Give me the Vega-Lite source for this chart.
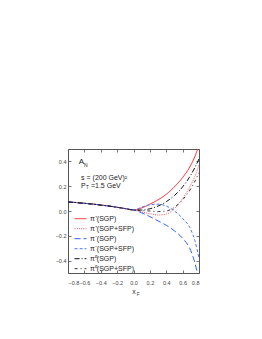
{
  "$schema": "https://vega.github.io/schema/vega-lite/v6.json",
  "autosize": "none",
  "width": 131,
  "height": 124,
  "padding": {"left": 68, "top": 149, "right": 63, "bottom": 66},
  "background": "white",
  "config": {
    "view": {"stroke": "#555", "strokeWidth": 1},
    "font": "Liberation Sans",
    "axis": {"grid": false, "domain": false, "tickColor": "#555", "labelColor": "#444", "labelFontSize": 5.5, "labelFont": "Liberation Sans", "labelOverlap": false, "tickSize": -3, "tickWidth": 0.8}
  },
  "datasets": {
    "curves": [
      {"s": "π⁺(SGP)", "x": -0.8, "y": 0.073}, {"s": "π⁺(SGP)", "x": -0.7, "y": 0.068}, {"s": "π⁺(SGP)", "x": -0.6, "y": 0.062}, {"s": "π⁺(SGP)", "x": -0.5, "y": 0.056}, {"s": "π⁺(SGP)", "x": -0.4, "y": 0.048}, {"s": "π⁺(SGP)", "x": -0.3, "y": 0.04}, {"s": "π⁺(SGP)", "x": -0.2, "y": 0.03}, {"s": "π⁺(SGP)", "x": -0.1, "y": 0.019}, {"s": "π⁺(SGP)", "x": 0.0, "y": 0.008},
      {"s": "π⁺(SGP)", "x": 0.1, "y": 0.025}, {"s": "π⁺(SGP)", "x": 0.2, "y": 0.055}, {"s": "π⁺(SGP)", "x": 0.3, "y": 0.09}, {"s": "π⁺(SGP)", "x": 0.4, "y": 0.135}, {"s": "π⁺(SGP)", "x": 0.5, "y": 0.195}, {"s": "π⁺(SGP)", "x": 0.6, "y": 0.27}, {"s": "π⁺(SGP)", "x": 0.7, "y": 0.37}, {"s": "π⁺(SGP)", "x": 0.75, "y": 0.44}, {"s": "π⁺(SGP)", "x": 0.8, "y": 0.53},

      {"s": "π⁺(SGP+SFP)", "x": -0.8, "y": 0.073}, {"s": "π⁺(SGP+SFP)", "x": -0.7, "y": 0.068}, {"s": "π⁺(SGP+SFP)", "x": -0.6, "y": 0.062}, {"s": "π⁺(SGP+SFP)", "x": -0.5, "y": 0.056}, {"s": "π⁺(SGP+SFP)", "x": -0.4, "y": 0.048}, {"s": "π⁺(SGP+SFP)", "x": -0.3, "y": 0.04}, {"s": "π⁺(SGP+SFP)", "x": -0.2, "y": 0.03}, {"s": "π⁺(SGP+SFP)", "x": -0.1, "y": 0.019}, {"s": "π⁺(SGP+SFP)", "x": 0.0, "y": 0.008},
      {"s": "π⁺(SGP+SFP)", "x": 0.1, "y": -0.008}, {"s": "π⁺(SGP+SFP)", "x": 0.2, "y": -0.022}, {"s": "π⁺(SGP+SFP)", "x": 0.3, "y": -0.032}, {"s": "π⁺(SGP+SFP)", "x": 0.4, "y": -0.025}, {"s": "π⁺(SGP+SFP)", "x": 0.5, "y": 0.02}, {"s": "π⁺(SGP+SFP)", "x": 0.6, "y": 0.1}, {"s": "π⁺(SGP+SFP)", "x": 0.7, "y": 0.21}, {"s": "π⁺(SGP+SFP)", "x": 0.75, "y": 0.28}, {"s": "π⁺(SGP+SFP)", "x": 0.8, "y": 0.37},

      {"s": "π⁻(SGP)", "x": -0.8, "y": 0.073}, {"s": "π⁻(SGP)", "x": -0.7, "y": 0.068}, {"s": "π⁻(SGP)", "x": -0.6, "y": 0.062}, {"s": "π⁻(SGP)", "x": -0.5, "y": 0.056}, {"s": "π⁻(SGP)", "x": -0.4, "y": 0.048}, {"s": "π⁻(SGP)", "x": -0.3, "y": 0.04}, {"s": "π⁻(SGP)", "x": -0.2, "y": 0.03}, {"s": "π⁻(SGP)", "x": -0.1, "y": 0.019}, {"s": "π⁻(SGP)", "x": 0.0, "y": 0.008},
      {"s": "π⁻(SGP)", "x": 0.1, "y": -0.015}, {"s": "π⁻(SGP)", "x": 0.2, "y": -0.045}, {"s": "π⁻(SGP)", "x": 0.3, "y": -0.08}, {"s": "π⁻(SGP)", "x": 0.4, "y": -0.115}, {"s": "π⁻(SGP)", "x": 0.5, "y": -0.16}, {"s": "π⁻(SGP)", "x": 0.6, "y": -0.22}, {"s": "π⁻(SGP)", "x": 0.7, "y": -0.32}, {"s": "π⁻(SGP)", "x": 0.75, "y": -0.42}, {"s": "π⁻(SGP)", "x": 0.8, "y": -0.56},

      {"s": "π⁻(SGP+SFP)", "x": -0.8, "y": 0.073}, {"s": "π⁻(SGP+SFP)", "x": -0.7, "y": 0.068}, {"s": "π⁻(SGP+SFP)", "x": -0.6, "y": 0.062}, {"s": "π⁻(SGP+SFP)", "x": -0.5, "y": 0.056}, {"s": "π⁻(SGP+SFP)", "x": -0.4, "y": 0.048}, {"s": "π⁻(SGP+SFP)", "x": -0.3, "y": 0.04}, {"s": "π⁻(SGP+SFP)", "x": -0.2, "y": 0.03}, {"s": "π⁻(SGP+SFP)", "x": -0.1, "y": 0.019}, {"s": "π⁻(SGP+SFP)", "x": 0.0, "y": 0.008},
      {"s": "π⁻(SGP+SFP)", "x": 0.1, "y": 0.03}, {"s": "π⁻(SGP+SFP)", "x": 0.2, "y": 0.05}, {"s": "π⁻(SGP+SFP)", "x": 0.3, "y": 0.055}, {"s": "π⁻(SGP+SFP)", "x": 0.4, "y": 0.04}, {"s": "π⁻(SGP+SFP)", "x": 0.5, "y": 0.0}, {"s": "π⁻(SGP+SFP)", "x": 0.6, "y": -0.06}, {"s": "π⁻(SGP+SFP)", "x": 0.7, "y": -0.15}, {"s": "π⁻(SGP+SFP)", "x": 0.75, "y": -0.24}, {"s": "π⁻(SGP+SFP)", "x": 0.8, "y": -0.38},

      {"s": "π⁰(SGP)", "x": -0.8, "y": 0.073}, {"s": "π⁰(SGP)", "x": -0.7, "y": 0.068}, {"s": "π⁰(SGP)", "x": -0.6, "y": 0.062}, {"s": "π⁰(SGP)", "x": -0.5, "y": 0.056}, {"s": "π⁰(SGP)", "x": -0.4, "y": 0.048}, {"s": "π⁰(SGP)", "x": -0.3, "y": 0.04}, {"s": "π⁰(SGP)", "x": -0.2, "y": 0.03}, {"s": "π⁰(SGP)", "x": -0.1, "y": 0.019}, {"s": "π⁰(SGP)", "x": 0.0, "y": 0.008},
      {"s": "π⁰(SGP)", "x": 0.1, "y": 0.008}, {"s": "π⁰(SGP)", "x": 0.2, "y": 0.018}, {"s": "π⁰(SGP)", "x": 0.3, "y": 0.04}, {"s": "π⁰(SGP)", "x": 0.4, "y": 0.075}, {"s": "π⁰(SGP)", "x": 0.5, "y": 0.125}, {"s": "π⁰(SGP)", "x": 0.6, "y": 0.195}, {"s": "π⁰(SGP)", "x": 0.7, "y": 0.29}, {"s": "π⁰(SGP)", "x": 0.75, "y": 0.35}, {"s": "π⁰(SGP)", "x": 0.8, "y": 0.42},

      {"s": "π⁰(SGP+SFP)", "x": -0.8, "y": 0.073}, {"s": "π⁰(SGP+SFP)", "x": -0.7, "y": 0.068}, {"s": "π⁰(SGP+SFP)", "x": -0.6, "y": 0.062}, {"s": "π⁰(SGP+SFP)", "x": -0.5, "y": 0.056}, {"s": "π⁰(SGP+SFP)", "x": -0.4, "y": 0.048}, {"s": "π⁰(SGP+SFP)", "x": -0.3, "y": 0.04}, {"s": "π⁰(SGP+SFP)", "x": -0.2, "y": 0.03}, {"s": "π⁰(SGP+SFP)", "x": -0.1, "y": 0.019}, {"s": "π⁰(SGP+SFP)", "x": 0.0, "y": 0.008},
      {"s": "π⁰(SGP+SFP)", "x": 0.1, "y": 0.003}, {"s": "π⁰(SGP+SFP)", "x": 0.2, "y": 0.0}, {"s": "π⁰(SGP+SFP)", "x": 0.3, "y": -0.005}, {"s": "π⁰(SGP+SFP)", "x": 0.4, "y": 0.0}, {"s": "π⁰(SGP+SFP)", "x": 0.5, "y": 0.03}, {"s": "π⁰(SGP+SFP)", "x": 0.6, "y": 0.09}, {"s": "π⁰(SGP+SFP)", "x": 0.7, "y": 0.18}, {"s": "π⁰(SGP+SFP)", "x": 0.75, "y": 0.24}, {"s": "π⁰(SGP+SFP)", "x": 0.8, "y": 0.31}
    ],
    "one": [{}]
  },
  "layer": [
    {
      "data": {"name": "curves"},
      "mark": {"type": "line", "clip": true, "strokeWidth": 1, "interpolate": "monotone"},
      "encoding": {
        "x": {"field": "x", "type": "quantitative", "scale": {"domain": [-0.8, 0.8], "nice": false},
          "axis": {"orient": "bottom", "values": [-0.8, -0.6, -0.4, -0.2, 0, 0.2, 0.4, 0.6, 0.8], "format": ".1f", "title": "x", "titleFontSize": 7, "titleFontWeight": "normal", "titleColor": "#333", "titlePadding": 2, "labelPadding": 10}},
        "y": {"field": "y", "type": "quantitative", "scale": {"domain": [-0.5, 0.5], "nice": false},
          "axis": {"orient": "left", "values": [-0.4, -0.2, 0, 0.2, 0.4], "format": ".1f", "title": null, "labelPadding": 5}},
        "color": {"field": "s", "type": "nominal",
          "scale": {"domain": ["π⁺(SGP)", "π⁺(SGP+SFP)", "π⁻(SGP)", "π⁻(SGP+SFP)", "π⁰(SGP)", "π⁰(SGP+SFP)"],
                    "range": ["#ff2020", "#ff5050", "#3060ff", "#4a78ff", "#111111", "#333333"]},
          "legend": {"orient": "none", "legendX": 6, "legendY": 65, "title": null, "symbolType": "stroke", "symbolStrokeWidth": 1, "symbolSize": 140, "labelFontSize": 7, "labelColor": "#222", "rowPadding": 0, "clipHeight": 9.4, "labelOffset": 3}},
        "strokeDash": {"field": "s", "type": "nominal",
          "scale": {"domain": ["π⁺(SGP)", "π⁺(SGP+SFP)", "π⁻(SGP)", "π⁻(SGP+SFP)", "π⁰(SGP)", "π⁰(SGP+SFP)"],
                    "range": [[1, 0], [1, 1.2], [6, 3], [3, 2], [5, 2, 1, 2], [3, 3, 1, 3]]},
          "legend": {"orient": "none", "legendX": 6, "legendY": 65, "title": null, "symbolType": "stroke", "symbolStrokeWidth": 1, "symbolSize": 140, "labelFontSize": 7, "rowPadding": 0, "clipHeight": 9.4, "labelOffset": 3}}
      }
    },
    {
      "data": {"name": "curves"},
      "mark": {"type": "point", "opacity": 0},
      "encoding": {
        "x": {"field": "x", "type": "quantitative", "axis": {"orient": "top", "values": [-0.8, -0.6, -0.4, -0.2, 0, 0.2, 0.4, 0.6, 0.8], "labels": false, "title": null}},
        "y": {"field": "y", "type": "quantitative", "axis": {"orient": "right", "values": [-0.4, -0.2, 0, 0.2, 0.4], "labels": false, "title": null}}
      }
    },
    {
      "data": {"name": "one"},
      "mark": {"type": "text", "text": "A", "fontSize": 8, "align": "left", "baseline": "middle", "color": "#222"},
      "encoding": {"x": {"datum": -0.67, "axis": null}, "y": {"datum": 0.395, "axis": null}}
    },
    {
      "data": {"name": "one"},
      "mark": {"type": "text", "text": "N", "fontSize": 5, "align": "left", "baseline": "middle", "color": "#222"},
      "encoding": {"x": {"datum": -0.605, "axis": null}, "y": {"datum": 0.37, "axis": null}}
    },
    {
      "data": {"name": "one"},
      "mark": {"type": "text", "text": "s = (200 GeV)²", "fontSize": 7, "align": "left", "baseline": "middle", "color": "#222"},
      "encoding": {"x": {"datum": -0.64, "axis": null}, "y": {"datum": 0.27, "axis": null}}
    },
    {
      "data": {"name": "one"},
      "mark": {"type": "text", "text": "P", "fontSize": 7, "align": "left", "baseline": "middle", "color": "#222"},
      "encoding": {"x": {"datum": -0.64, "axis": null}, "y": {"datum": 0.205, "axis": null}}
    },
    {
      "data": {"name": "one"},
      "mark": {"type": "text", "text": "T", "fontSize": 4.5, "align": "left", "baseline": "middle", "color": "#222"},
      "encoding": {"x": {"datum": -0.58, "axis": null}, "y": {"datum": 0.188, "axis": null}}
    },
    {
      "data": {"name": "one"},
      "mark": {"type": "text", "text": "=1.5 GeV", "fontSize": 7, "align": "left", "baseline": "middle", "color": "#222"},
      "encoding": {"x": {"datum": -0.52, "axis": null}, "y": {"datum": 0.205, "axis": null}}
    },
    {
      "data": {"name": "one"},
      "mark": {"type": "text", "text": "F", "fontSize": 4.5, "align": "left", "baseline": "middle", "color": "#333", "dy": 22},
      "encoding": {"x": {"datum": 0.04, "axis": null}, "y": {"datum": -0.5, "axis": null}}
    }
  ],
  "resolve": {"axis": {"x": "independent", "y": "independent"}}
}
